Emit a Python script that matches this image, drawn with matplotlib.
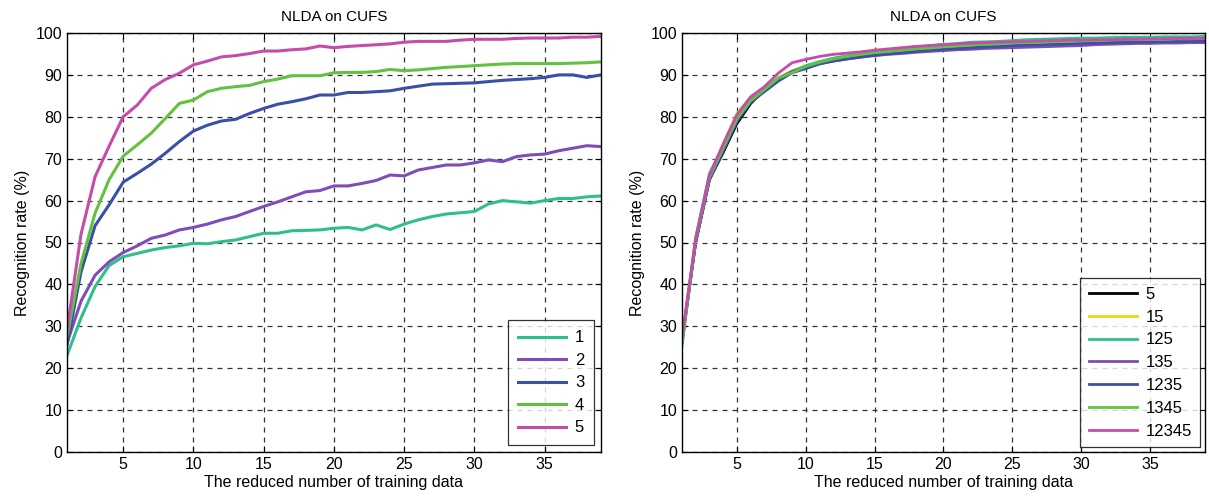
import numpy as np
import matplotlib
matplotlib.use("Agg")
import matplotlib.pyplot as plt

plt.rcParams["font.family"] = ["Liberation Sans", "DejaVu Sans"]

x = list(range(1, 40))

# left panel: single sketch types
left_labels = ["1", "2", "3", "4", "5"]
left_colors = ["#2fbf8c", "#7e4db8", "#3a4fa6", "#63c141", "#c54cab"]
s1 = [23, 32, 39.5, 44.5, 46.6, 47.4, 48.2, 48.8, 49.2, 49.8, 49.7, 50.2, 50.6, 51.4,
      52.2, 52.2, 52.8, 52.9, 53, 53.4, 53.6, 53, 54.2, 53.1, 54.4, 55.4, 56.2, 56.8,
      57.1, 57.4, 59.2, 60, 59.7, 59.4, 60, 60.5, 60.5, 60.9, 61.1]
s2 = [26, 36, 42.2, 45.4, 47.6, 49.2, 51, 51.8, 53, 53.6, 54.4, 55.4, 56.2, 57.4,
      58.6, 59.7, 60.9, 62.1, 62.4, 63.5, 63.5, 64.1, 64.8, 66.1, 65.9, 67.3, 67.9,
      68.5, 68.5, 69, 69.7, 69.3, 70.5, 70.9, 71.1, 71.9, 72.5, 73.1, 72.9]
s3 = [25.5, 43, 54, 59, 64.4, 66.5, 68.7, 71.3, 74.1, 76.6, 78, 79, 79.4, 80.8, 82,
      83, 83.6, 84.3, 85.2, 85.2, 85.8, 85.8, 86, 86.2, 86.8, 87.3, 87.8, 87.9, 88,
      88.1, 88.4, 88.7, 88.9, 89.1, 89.4, 90, 90, 89.4, 90]
s4 = [27.5, 45, 57, 65, 70.6, 73.3, 76.1, 79.6, 83.2, 84, 86, 86.8, 87.2, 87.5, 88.4,
      89, 89.8, 89.8, 89.8, 90.5, 90.6, 90.6, 90.8, 91.3, 91, 91.2, 91.5, 91.8, 92,
      92.2, 92.4, 92.6, 92.7, 92.7, 92.7, 92.7, 92.8, 92.9, 93.1]
s5 = [29, 52, 65.7, 73, 80, 82.8, 86.8, 88.9, 90.4, 92.4, 93.3, 94.3, 94.6, 95.1,
      95.7, 95.7, 96, 96.2, 96.9, 96.5, 96.8, 97, 97.2, 97.4, 97.8, 98, 98, 98, 98.3,
      98.5, 98.5, 98.5, 98.7, 98.8, 98.8, 98.8, 99, 99, 99.2]
left_series = [s1, s2, s3, s4, s5]

# right panel: combinations
right_labels = ["5", "15", "125", "135", "1235", "1345", "12345"]
right_colors = ["#000000", "#f3d21a", "#2fbf8c", "#7e4db8", "#3a4fa6", "#63c141", "#c54cab"]
r5 = [26, 50, 65, 71.5, 78.4, 83.2, 86.5, 89, 90.8, 92, 93, 93.7, 94.2, 94.6, 95,
      95.3, 95.6, 95.9, 96.1, 96.4, 96.6, 96.8, 97, 97.1, 97.2, 97.3, 97.4, 97.5,
      97.6, 97.7, 97.8, 97.9, 98, 98, 98.1, 98.1, 98.2, 98.2, 98.2]
r15 = [26, 51, 66, 73.5, 80.8, 84.5, 87, 89.3, 91, 92, 93, 93.8, 94.3, 94.8, 95.2,
       95.5, 95.8, 96.1, 96.3, 96.6, 96.8, 97, 97.2, 97.3, 97.5, 97.6, 97.7, 97.8,
       97.9, 98, 98.1, 98.2, 98.3, 98.3, 98.4, 98.4, 98.5, 98.5, 98.6]
r125 = [25, 51, 66.5, 73, 80, 84, 86.2, 89.2, 90.8, 92.2, 93.2, 94, 94.6, 95.1, 95.5,
        95.9, 96.3, 96.7, 97, 97.3, 97.5, 97.8, 97.9, 98, 98.2, 98.4, 98.5, 98.6, 98.7,
        98.8, 98.8, 98.9, 99, 99, 99, 99.1, 99.1, 99.1, 99.2]
r135 = [27, 50, 65, 72, 79, 83.8, 86.5, 89, 90.8, 91.8, 92.7, 93.3, 93.8, 94.2, 94.6,
        94.9, 95.1, 95.4, 95.6, 95.8, 96, 96.1, 96.3, 96.4, 96.5, 96.6, 96.7, 96.8,
        96.9, 97, 97.2, 97.3, 97.4, 97.5, 97.5, 97.6, 97.6, 97.7, 97.7]
r1235 = [26.5, 50, 65, 72, 79, 83.5, 86, 88.5, 90.5, 91.5, 92.6, 93.3, 93.8, 94.3,
         94.7, 95, 95.3, 95.6, 95.9, 96.1, 96.3, 96.5, 96.7, 96.8, 97, 97.1, 97.2,
         97.3, 97.4, 97.5, 97.6, 97.7, 97.8, 97.8, 97.9, 97.9, 98, 98, 98]
r1345 = [26, 50.5, 65.5, 72.5, 79.5, 83.8, 86.5, 89.2, 90.5, 92, 93, 93.8, 94.4,
         94.9, 95.3, 95.6, 95.9, 96.2, 96.4, 96.7, 96.9, 97.1, 97.3, 97.4, 97.6, 97.7,
         97.8, 97.9, 98, 98.1, 98.2, 98.3, 98.4, 98.4, 98.5, 98.5, 98.6, 98.6, 98.7]
r12345 = [27, 51, 66, 73.5, 80.5, 84.8, 87.2, 90.4, 92.9, 93.7, 94.4, 94.9, 95.2,
          95.5, 95.9, 96.2, 96.5, 96.8, 97, 97.2, 97.4, 97.6, 97.7, 97.8, 97.9, 98,
          98.1, 98.2, 98.3, 98.3, 98.4, 98.4, 98.5, 98.5, 98.6, 98.6, 98.7, 98.7, 98.7]
right_series = [r5, r15, r125, r135, r1235, r1345, r12345]

fig = plt.figure(figsize=(12.09, 5), dpi=100)
ax1 = fig.add_axes([0.0554, 0.096, 0.4416, 0.838])
ax2 = fig.add_axes([0.564, 0.096, 0.4327, 0.838])


def style(ax):
    ax.set_xlim(1, 39)
    ax.set_ylim(0, 100)
    ax.set_xticks([5, 10, 15, 20, 25, 30, 35])
    ax.set_yticks(np.arange(0, 101, 10))
    ax.grid(True, color="#333333", linestyle=(0, (4, 4)), linewidth=0.9)
    ax.tick_params(direction="in", labelsize=11.5, length=4, top=True, right=True)
    for sp in ax.spines.values():
        sp.set_linewidth(1.0)
    ax.set_title("NLDA on CUFS", fontsize=11, pad=9)
    ax.set_xlabel("The reduced number of training data", fontsize=11.5, labelpad=2)
    ax.set_ylabel("Recognition rate (%)", fontsize=11.5, labelpad=4)


for ys, lab, c in zip(left_series, left_labels, left_colors):
    ax1.plot(x, ys, color=c, linewidth=2.2, label=lab)
style(ax1)
leg1 = ax1.legend(loc="lower right", fontsize=12, frameon=True, fancybox=False,
                  edgecolor="black", handlelength=2.9, borderaxespad=0.4,
                  labelspacing=0.45, handletextpad=0.5, borderpad=0.6)
leg1.get_frame().set_linewidth(0.9)

for ys, lab, c in zip(right_series, right_labels, right_colors):
    ax2.plot(x, ys, color=c, linewidth=2.0, label=lab)
style(ax2)
leg2 = ax2.legend(loc="lower right", fontsize=12, frameon=True, fancybox=False,
                  edgecolor="black", handlelength=2.9, borderaxespad=0.3,
                  labelspacing=0.47, handletextpad=0.5, borderpad=0.5)
leg2.get_frame().set_linewidth(0.9)

fig.savefig("out.png", dpi=100)
